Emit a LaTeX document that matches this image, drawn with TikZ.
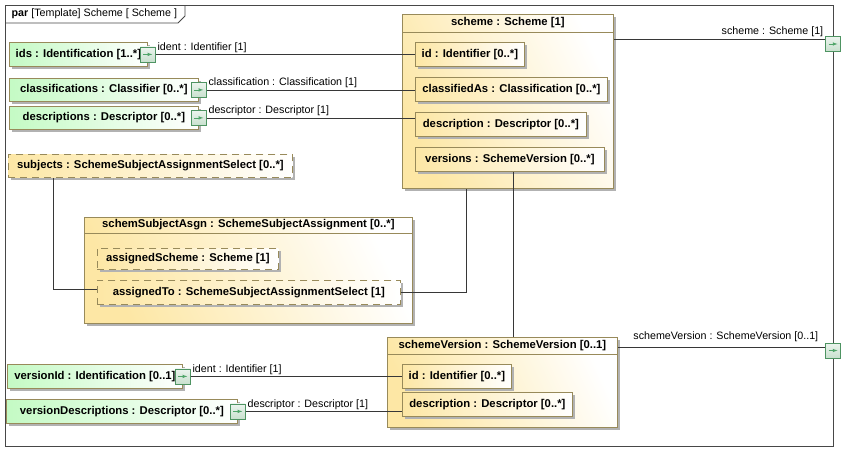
\documentclass[tikz,border=0pt]{standalone}
\usepackage{fontspec}
\setmainfont{Liberation Sans}
\usetikzlibrary{positioning}
\usetikzlibrary{shadows}
\definecolor{boxborder}{RGB}{152,138,90}
\definecolor{partyellow}{RGB}{253,231,165}
\definecolor{partgreen}{RGB}{196,250,196}
\definecolor{portborder}{RGB}{78,148,98}
\definecolor{portfill}{RGB}{200,224,206}
\definecolor{portarrow}{RGB}{80,165,105}
\definecolor{wiregray}{RGB}{55,55,55}
\definecolor{shadowgray}{RGB}{178,178,178}
\newcommand{\partfont}{\fontsize{11.3}{13}\selectfont\bfseries}
\newcommand{\lblfont}{\fontsize{10.7}{12}\selectfont}
\tikzset{
	part/.style={
		rectangle,
		anchor=north west,
		inner sep=0pt,
		draw=boxborder,
		line width=.8pt,
		left color=partyellow,
		right color=white,
		font=\partfont,
		drop shadow={shadow xshift=3pt, shadow yshift=-3pt, opacity=1, fill=shadowgray}
	},
	greenpart/.style={part, left color=partgreen, right color=white},
	dashedpart/.style={part, dash pattern=on 7pt off 5pt},
	container/.style={part, shading angle=115},
	title/.style={font=\partfont, inner sep=0pt},
	port/.style={
		rectangle,
		draw=portborder,
		line width=.8pt,
		top color=portfill!35,
		bottom color=portfill,
		minimum size=15pt,
		inner sep=0pt,
		path picture={\draw[portarrow, line width=.6pt, -latex] ([xshift=3pt]path picture bounding box.west) -- ([xshift=-3pt]path picture bounding box.east);}
	},
	frame/.style={rectangle, anchor=north west, draw=black!72, line width=.8pt, inner sep=0pt},
	wireline/.style={draw=wiregray, line width=.8pt},
	lbl/.style={font=\lblfont, inner sep=1.5pt}
}
\begin{document}
\begin{tikzpicture}[x=1pt, y=-1pt]
		\useasboundingbox (0,0) rectangle (855,461);
		\draw node[frame, minimum width=828pt, minimum height=441pt] (frame) at (5,5) {};
		\draw[draw=black!72, line width=.8pt] (5,23) -- (178,23) -- (185,16) -- (185,5);
		\draw node[anchor=west, font=\lblfont, inner sep=0pt] (tab) at (11.5,14) {\textbf{par} [Template] Scheme [ Scheme ]};
		
		% scheme
		\draw node[container, minimum width=211pt, minimum height=174pt] (scheme) at (402,14) {};
		\draw node[title] (schemeTitle) at ([yshift=-9pt]scheme.north) {scheme : Scheme [1]};
		\draw[draw=boxborder, line width=.8pt] ([yshift=-18pt]scheme.north west) -- ([yshift=-18pt]scheme.north east);
		\draw node[part, minimum width=109pt, minimum height=24pt] (schemeId) at (415,42) {id : Identifier [0..*]};
		\draw node[part, minimum width=192pt, minimum height=24pt] (classifiedAs) at (415,77) {classifiedAs : Classification [0..*]};
		\draw node[part, minimum width=171pt, minimum height=24pt] (schemeDescr) at (415,112) {description : Descriptor [0..*]};
		\draw node[part, minimum width=189pt, minimum height=24pt] (versions) at (415,147) {versions : SchemeVersion [0..*]};
		
		% schemSubjectAsgn
		\draw node[container, minimum width=328pt, minimum height=106pt] (asgn) at (84,217) {};
		\draw node[title] (asgnTitle) at ([yshift=-8pt]asgn.north) {schemSubjectAsgn : SchemeSubjectAssignment [0..*]};
		\draw[draw=boxborder, line width=.8pt] ([yshift=-16pt]asgn.north west) -- ([yshift=-16pt]asgn.north east);
		\draw node[dashedpart, minimum width=181pt, minimum height=21pt] (assignedScheme) at (97,248) {assignedScheme : Scheme [1]};
		\draw node[dashedpart, minimum width=303pt, minimum height=24pt] (assignedTo) at (97,280) {assignedTo : SchemeSubjectAssignmentSelect [1]};
		
		% schemeVersion
		\draw node[container, minimum width=230pt, minimum height=90pt] (schemeVersion) at (387,337) {};
		\draw node[title] (schemeVersionTitle) at ([yshift=-8.5pt]schemeVersion.north) {schemeVersion : SchemeVersion [0..1]};
		\draw[draw=boxborder, line width=.8pt] ([yshift=-17pt]schemeVersion.north west) -- ([yshift=-17pt]schemeVersion.north east);
		\draw node[part, minimum width=109pt, minimum height=24pt] (svId) at (402,364) {id : Identifier [0..*]};
		\draw node[part, minimum width=170pt, minimum height=24pt] (svDescr) at (402,392) {description : Descriptor [0..*]};
		
		% parameters
		\draw node[greenpart, minimum width=138pt, minimum height=24pt] (ids) at (9,42) {ids : Identification [1..*]};
		\draw node[greenpart, minimum width=189pt, minimum height=23pt] (classifications) at (9,78) {classifications : Classifier [0..*]};
		\draw node[greenpart, minimum width=189pt, minimum height=23pt] (descriptions) at (9,106) {descriptions : Descriptor [0..*]};
		\draw node[dashedpart, minimum width=284pt, minimum height=23pt] (subjects) at (8,154) {subjects : SchemeSubjectAssignmentSelect [0..*]};
		\draw node[greenpart, minimum width=175pt, minimum height=24pt] (versionId) at (7,364) {versionId : Identification [0..1]};
		\draw node[greenpart, minimum width=231pt, minimum height=24pt] (versionDescriptions) at (6,399) {versionDescriptions : Descriptor [0..*]};
		
		\draw node[port] (idsPort) at (ids.east) {};
		\draw node[port] (classificationsPort) at (classifications.east) {};
		\draw node[port] (descriptionsPort) at (descriptions.east) {};
		\draw node[port] (versionIdPort) at (versionId.east) {};
		\draw node[port] (versionDescriptionsPort) at (versionDescriptions.east) {};
		\draw node[port] (schemeOut) at (833,44) {};
		\draw node[port] (schemeVersionOut) at (833,350.5) {};
		
		% connectors
		\draw[wireline] (idsPort.east) -- (idsPort.east -| schemeId.west) node[lbl, above right, pos=0] {ident : Identifier [1]};
		\draw[wireline] (classificationsPort.east) -- (classificationsPort.east -| classifiedAs.west) node[lbl, above right, pos=0] {classification : Classification [1]};
		\draw[wireline] (descriptionsPort.east) -- (descriptionsPort.east -| schemeDescr.west) node[lbl, above right, pos=0] {descriptor : Descriptor [1]};
		\draw[wireline] (versionIdPort.east) -- (versionIdPort.east -| svId.west) node[lbl, above right, pos=0] {ident : Identifier [1]};
		\draw[wireline] (versionDescriptionsPort.east) -- (versionDescriptionsPort.east -| svDescr.west) node[lbl, above right, pos=0] {descriptor : Descriptor [1]};
		
		\coordinate (schemeOutStart) at ([yshift=-25pt]scheme.north east);
		\draw[wireline] (schemeOutStart) -- (schemeOutStart -| schemeOut.west) node[lbl, above left, pos=1] {scheme : Scheme [1]};
		\coordinate (schemeVersionOutStart) at ([yshift=-10pt]schemeVersion.north east);
		\draw[wireline] (schemeVersionOutStart) -- (schemeVersionOutStart -| schemeVersionOut.west) node[lbl, above left, pos=1, xshift=-5pt, yshift=3pt] {schemeVersion : SchemeVersion [0..1]};
		
		\coordinate (subjectsFoot) at ([xshift=45pt]subjects.south west);
		\coordinate (assignedToIn) at ([yshift=3pt]assignedTo.west);
		\draw[wireline] (subjectsFoot) |- (assignedToIn);
		\coordinate (schemeFoot) at ([xshift=64pt]scheme.south west);
		\draw[wireline] (assignedTo.east) -| (schemeFoot);
		\coordinate (versionsFoot) at ([xshift=98pt]versions.south west);
		\draw[wireline] (versionsFoot) -- (versionsFoot |- schemeVersion.north);
	\end{tikzpicture}
\end{document}
